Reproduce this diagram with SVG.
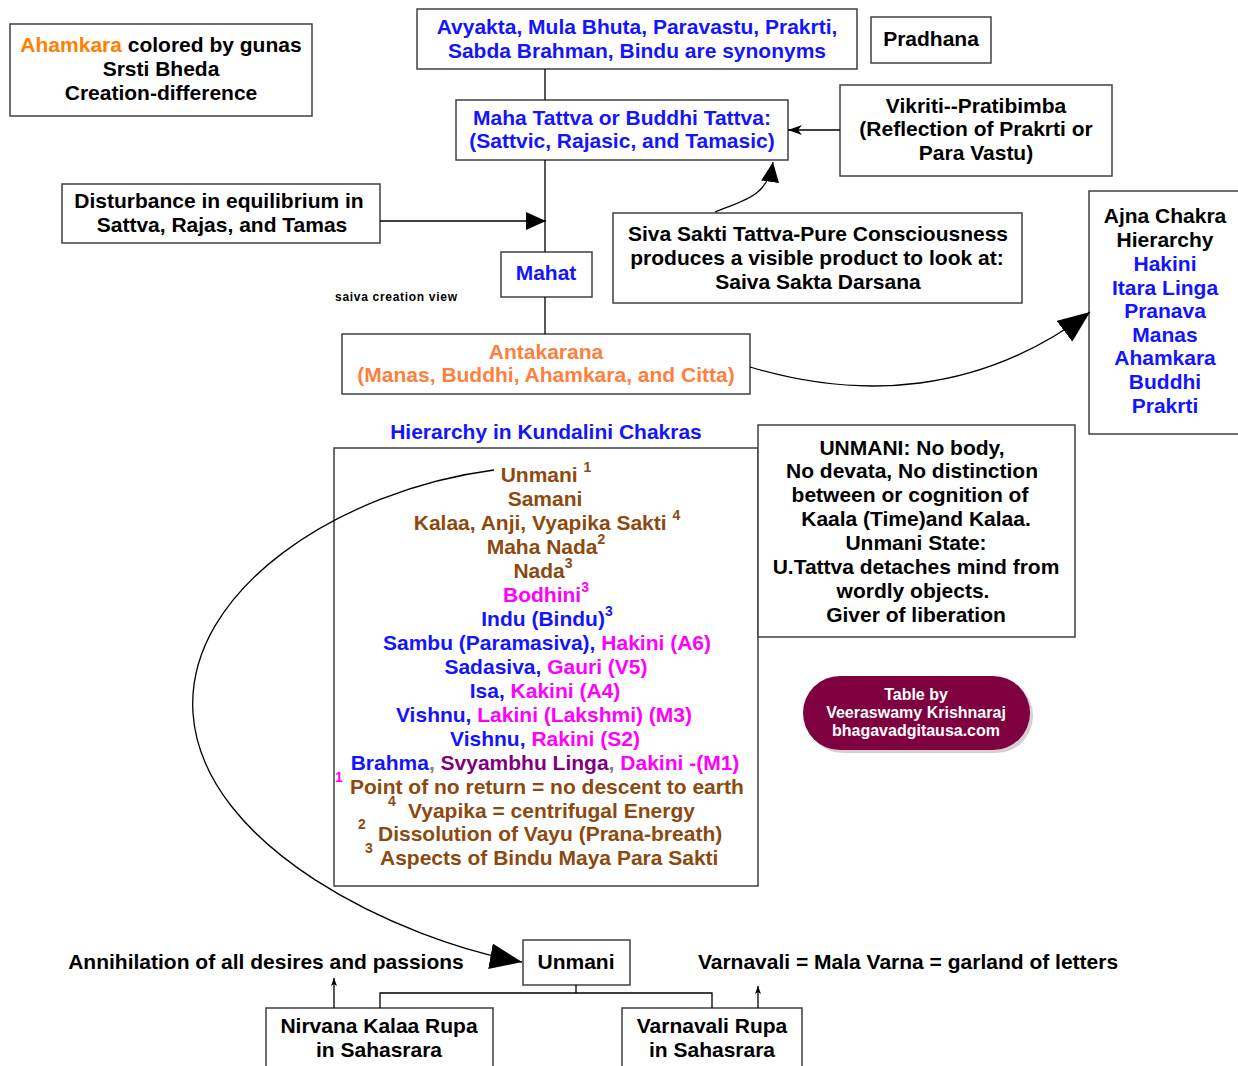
<svg xmlns="http://www.w3.org/2000/svg" width="1238" height="1066" viewBox="0 0 1238 1066">
<style>
text{font-family:"Liberation Sans",Arial,sans-serif;font-weight:bold;font-size:21px;text-anchor:middle;fill:#000}
.box{fill:#fff;stroke:#404040;stroke-width:1.5}
.ln{fill:none;stroke:#000;stroke-width:1.3}
.bl{fill:#1414ff}.mg{fill:#ff00ff}.br{fill:#8c4a10}.pu{fill:#800080}.gy{fill:#808080}
.or{fill:#ff8000}.co{fill:#ff7f40}
.sup{font-size:14px}
.st{text-anchor:start}
.wt{fill:#fff;font-size:16px}
</style>
<defs>
<marker id="big" markerUnits="userSpaceOnUse" viewBox="0 0 32 26" refX="32" refY="13" markerWidth="32" markerHeight="26" orient="auto"><path d="M0,0 L32,13 L0,26 z" fill="#000"/></marker>
<marker id="med" markerUnits="userSpaceOnUse" viewBox="0 0 20 18" refX="20" refY="9" markerWidth="20" markerHeight="18" orient="auto"><path d="M0,0 L20,9 L0,18 z" fill="#000"/></marker>
<marker id="sml" markerUnits="userSpaceOnUse" viewBox="0 0 14 10" refX="14" refY="5" markerWidth="14" markerHeight="10" orient="auto"><path d="M0,0 L14,5 L0,10 L4,5 z" fill="#000"/></marker>
<marker id="tiny" markerUnits="userSpaceOnUse" viewBox="0 0 8 6" refX="8" refY="3" markerWidth="8" markerHeight="6" orient="auto"><path d="M0,0 L8,3 L0,6 L2,3 z" fill="#000"/></marker>
</defs>

<g id="srsti">
<rect class="box" x="10" y="24" width="302" height="92"/>
<text x="161" y="52"><tspan class="or">Ahamkara</tspan>  colored by gunas</text>
<text x="161" y="76">Srsti Bheda</text>
<text x="161" y="100">Creation-difference</text>
</g>

<g id="avyakta">
<rect class="box" x="417" y="9" width="440" height="60"/>
<text class="bl" x="637" y="34">Avyakta, Mula Bhuta, Paravastu, Prakrti,</text>
<text class="bl" x="637" y="58">Sabda Brahman, Bindu are synonyms</text>
</g>

<g id="pradhana">
<rect class="box" x="871" y="17" width="120" height="46"/>
<text x="931" y="46">Pradhana</text>
</g>

<g id="mahatattva">
<rect class="box" x="456" y="100" width="332" height="60"/>
<text class="bl" x="622" y="125">Maha Tattva or Buddhi Tattva:</text>
<text class="bl" x="622" y="148">(Sattvic, Rajasic, and Tamasic)</text>
</g>

<g id="vikriti">
<rect class="box" x="840" y="85" width="272" height="91"/>
<text x="976" y="113">Vikriti--Pratibimba</text>
<text x="976" y="136">(Reflection of Prakrti or</text>
<text x="976" y="160">Para Vastu)</text>
</g>

<g id="disturbance">
<rect class="box" x="62" y="184" width="318" height="59"/>
<text x="219" y="208">Disturbance in equilibrium in</text>
<text x="222" y="232">Sattva, Rajas, and Tamas</text>
</g>

<g id="sivasakti">
<rect class="box" x="613" y="213" width="409" height="90"/>
<text x="818" y="241">Siva Sakti Tattva-Pure Consciousness</text>
<text x="817" y="265">produces a visible product to look at:</text>
<text x="818" y="289">Saiva Sakta Darsana</text>
</g>

<g id="mahat">
<rect class="box" x="501" y="252" width="91" height="45"/>
<text class="bl" x="546" y="280">Mahat</text>
</g>

<text x="396" y="301" style="font-size:12px;font-weight:bold" textLength="122">saiva creation view</text>

<g id="antakarana">
<rect class="box" x="342" y="334" width="408" height="60"/>
<text class="co" x="546" y="359">Antakarana</text>
<text class="co" x="546" y="382">(Manas, Buddhi, Ahamkara, and Citta)</text>
</g>

<g id="ajna">
<rect class="box" x="1089" y="191" width="160" height="243"/>
<text x="1165" y="223">Ajna Chakra</text>
<text x="1165" y="247">Hierarchy</text>
<text class="bl" x="1165" y="271">Hakini</text>
<text class="bl" x="1165" y="295">Itara Linga</text>
<text class="bl" x="1165" y="318">Pranava</text>
<text class="bl" x="1165" y="342">Manas</text>
<text class="bl" x="1165" y="365">Ahamkara</text>
<text class="bl" x="1165" y="389">Buddhi</text>
<text class="bl" x="1165" y="413">Prakrti</text>
</g>

<g id="hierarchy">
<text class="bl" x="546" y="439">Hierarchy in Kundalini Chakras</text>
<rect class="box" x="334" y="448" width="424" height="438"/>
<text class="br" x="546" y="482">Unmani <tspan class="sup" dy="-10">1</tspan></text>
<text class="br" x="545" y="506">Samani</text>
<text class="br" x="547" y="530">Kalaa, Anji, Vyapika Sakti <tspan class="sup" dy="-10">4</tspan></text>
<text class="br" x="546" y="554">Maha Nada<tspan class="sup" dy="-10">2</tspan></text>
<text class="br" x="543" y="578">Nada<tspan class="sup" dy="-10">3</tspan></text>
<text class="mg" x="546" y="602">Bodhini<tspan class="sup" dy="-10">3</tspan></text>
<text class="bl" x="547" y="626">Indu (Bindu)<tspan class="sup" dy="-10">3</tspan></text>
<text x="547" y="650"><tspan class="bl">Sambu (Paramasiva),</tspan>  <tspan class="mg">Hakini (A6)</tspan></text>
<text x="546" y="674"><tspan class="bl">Sadasiva,</tspan>  <tspan class="mg">Gauri (V5)</tspan></text>
<text x="545" y="698"><tspan class="bl">Isa,</tspan> <tspan class="mg">Kakini (A4)</tspan></text>
<text x="544" y="722"><tspan class="bl">Vishnu,</tspan>  <tspan class="mg">Lakini (Lakshmi) (M3)</tspan></text>
<text x="545" y="746"><tspan class="bl">Vishnu,</tspan> <tspan class="mg">Rakini (S2)</tspan></text>
<text x="545" y="770"><tspan class="bl">Brahma</tspan><tspan class="gy">,</tspan>  <tspan class="pu">Svyambhu Linga</tspan><tspan class="gy">,</tspan>  <tspan class="mg">Dakini -(M1)</tspan></text>
<text class="mg sup" x="339" y="782">1</text>
<text class="br st" x="350" y="794">Point of no return = no descent to earth</text>
<text class="br sup" x="392" y="806">4</text>
<text class="br st" x="408" y="818">Vyapika = centrifugal Energy</text>
<text class="br sup" x="362" y="829">2</text>
<text class="br st" x="378" y="841">Dissolution of Vayu (Prana-breath)</text>
<text class="br sup" x="369" y="853">3</text>
<text class="br st" x="380" y="865">Aspects of Bindu Maya Para Sakti</text>
</g>

<g id="unmani-note">
<rect class="box" x="758" y="425" width="317" height="212"/>
<text x="912" y="455">UNMANI: No body,</text>
<text x="912" y="478">No devata,  No distinction</text>
<text x="910" y="502">between  or cognition of</text>
<text x="916" y="526">Kaala (Time)and Kalaa.</text>
<text x="916" y="550">Unmani State:</text>
<text x="916" y="574">U.Tattva detaches mind from</text>
<text x="913" y="598">wordly objects.</text>
<text x="916" y="622">Giver of liberation</text>
</g>

<g id="tableby">
<rect x="806" y="679" width="227" height="74" rx="37" fill="#b0a0a8" opacity="0.5"/>
<rect x="803" y="676" width="227" height="74" rx="37" fill="#7f003f"/>
<text class="wt" x="916" y="700">Table by</text>
<text class="wt" x="916" y="718">Veeraswamy Krishnaraj</text>
<text class="wt" x="916" y="736">bhagavadgitausa.com</text>
</g>

<text x="266" y="969">Annihilation of all desires and passions</text>
<text x="908" y="969">Varnavali = Mala Varna = garland of letters</text>

<g id="unmani">
<rect class="box" x="523" y="940" width="107" height="45"/>
<text x="576" y="969">Unmani</text>
</g>

<g id="nirvana">
<rect class="box" x="266" y="1008" width="227" height="64"/>
<text x="379" y="1033">Nirvana Kalaa Rupa</text>
<text x="379" y="1057">in Sahasrara</text>
</g>

<g id="varnavali">
<rect class="box" x="622" y="1008" width="180" height="64"/>
<text x="712" y="1033">Varnavali Rupa</text>
<text x="712" y="1057">in Sahasrara</text>
</g>

<g id="connectors">
<path class="ln" d="M545,69 V100"/>
<path class="ln" d="M545,160 V252"/>
<path class="ln" d="M545,297 V334"/>
<path class="ln" d="M840,130 H788" marker-end="url(#sml)"/>
<path class="ln" d="M380,221 H546" marker-end="url(#med)"/>
<path class="ln" d="M715,212 C745,200 768,196 773,162" marker-end="url(#med)"/>
<path class="ln" d="M750,367 C860,400 980,395 1090,312" marker-end="url(#big)"/>
<path class="ln" d="M494,470 C340,490 185,590 193,713 C202,848 400,940 522,962" marker-end="url(#big)"/>
<path class="ln" d="M576,985 V993 M380,1008 V993 H712 V1008"/>
<path class="ln" d="M334,1008 V978" marker-end="url(#tiny)"/>
<path class="ln" d="M758,1008 V986" marker-end="url(#tiny)"/>
</g>
</svg>
